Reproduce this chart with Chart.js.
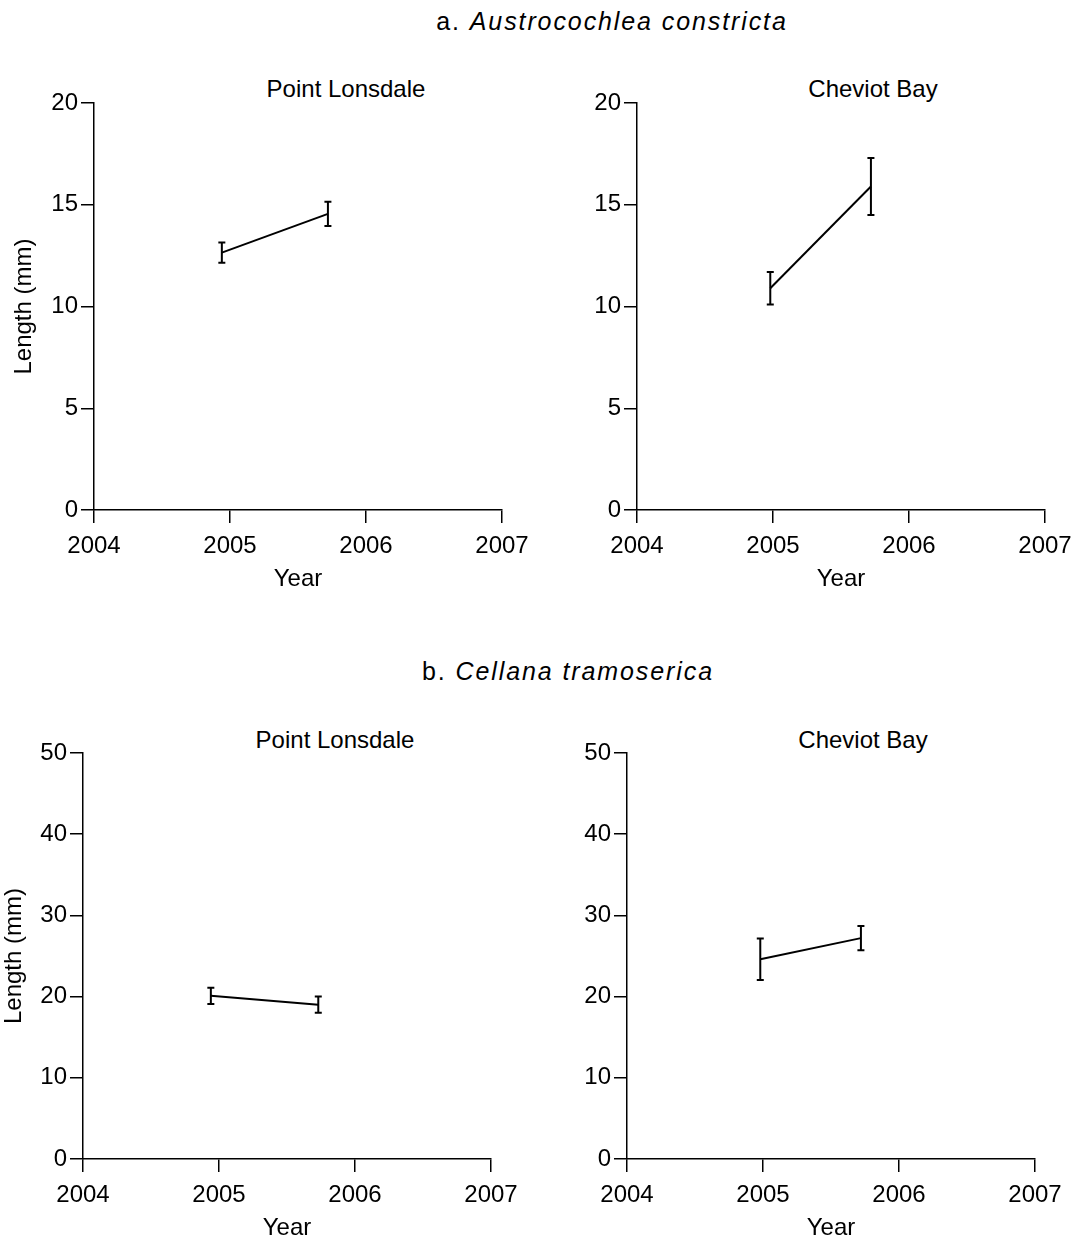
<!DOCTYPE html>
<html>
<head>
<meta charset="utf-8">
<script src="https://cdn.jsdelivr.net/npm/chart.js@4"></script>
<style>
  body { margin: 0; background: #fff; width: 1075px; height: 1241px; overflow: hidden; position: relative; font-family: "Liberation Sans", Arial, sans-serif; color: #000; }
  canvas { position: absolute; }
  .head { position: absolute; font-size: 25px; letter-spacing: 1.9px; white-space: nowrap; transform: translate(-50%, -50%); }
  .sub { position: absolute; font-size: 24px; white-space: nowrap; transform: translate(-50%, -50%); }
</style>
</head>
<body>
<div class="head" style="left:612px; top:21px;">a. <i>Austrocochlea constricta</i></div>
<div class="head" style="left:568px; top:671px;">b. <i>Cellana tramoserica</i></div>
<div class="sub" style="left:346px; top:89px;">Point Lonsdale</div>
<div class="sub" style="left:873px; top:89px;">Cheviot Bay</div>
<div class="sub" style="left:335px; top:740px;">Point Lonsdale</div>
<div class="sub" style="left:863px; top:740px;">Cheviot Bay</div>

<canvas id="aLonsdale"></canvas>
<canvas id="aCheviot"></canvas>
<canvas id="bLonsdale"></canvas>
<canvas id="bCheviot"></canvas>

<script>
// sampling times (decimal year) and mean length (mm) with error bars
const yearTicks = [2004, 2005, 2006, 2007];

const aLonsdaleYears = [2004.94, 2005.72];
const aLonsdaleMeans = [12.65, 14.55];
const aLonsdaleErrs  = [0.5, 0.6];

const aCheviotYears = [2004.98, 2005.72];
const aCheviotMeans = [10.9, 15.9];
const aCheviotErrs  = [0.8, 1.4];

const bLonsdaleYears = [2004.94, 2005.73];
const bLonsdaleMeans = [20.1, 19.0];
const bLonsdaleErrs  = [1.0, 1.0];

const bCheviotYears = [2004.98, 2005.72];
const bCheviotMeans = [24.6, 27.2];
const bCheviotErrs  = [2.55, 1.5];

Chart.defaults.color = "#000";
Chart.defaults.font.family = "'Liberation Sans', Arial, sans-serif";
Chart.defaults.font.size = 24;

// draws the vertical error bars with little caps
const errorBars = {
  id: "errorBars",
  afterDatasetsDraw(chart) {
    const ctx = chart.ctx;
    const xs = chart.scales.x, ys = chart.scales.y;
    const ds = chart.data.datasets[0];
    ctx.save();
    ctx.strokeStyle = "#000";
    ctx.lineWidth = 2;
    ds.data.forEach((p, i) => {
      const x = xs.getPixelForValue(p.x);
      const top = ys.getPixelForValue(p.y + ds.errors[i]);
      const bot = ys.getPixelForValue(p.y - ds.errors[i]);
      ctx.beginPath();
      ctx.moveTo(x, top); ctx.lineTo(x, bot);
      ctx.moveTo(x - 3.5, top); ctx.lineTo(x + 3.5, top);
      ctx.moveTo(x - 3.5, bot); ctx.lineTo(x + 3.5, bot);
      ctx.stroke();
    });
    ctx.restore();
  }
};

// box = plot area in page pixels, region = left edge / width of the panel
function panel(id, years, means, errs, yMax, yStep, showYTitle, yTitlePad, box, region) {
  const canvas = document.getElementById(id);
  const topPad = 40, xAxisH = 84;
  const yw = box.x - region.left;
  canvas.width = region.width;
  canvas.height = topPad + box.h + xAxisH + 2;
  canvas.style.left = region.left + "px";
  canvas.style.top = (box.y - topPad) + "px";

  new Chart(canvas, {
    type: "line",
    data: {
      datasets: [{
        data: years.map((y, i) => ({ x: y, y: means[i] })),
        errors: errs,
        borderColor: "#000",
        borderWidth: 2,
        pointRadius: 0,
        fill: false,
        tension: 0
      }]
    },
    options: {
      responsive: false,
      animation: false,
      events: [],
      layout: {
        padding: { top: topPad, left: 0, bottom: 2, right: region.width - yw - box.w }
      },
      plugins: { legend: { display: false }, tooltip: { enabled: false } },
      scales: {
        x: {
          type: "linear",
          min: yearTicks[0],
          max: yearTicks[yearTicks.length - 1],
          afterBuildTicks: s => { s.ticks = yearTicks.map(v => ({ value: v })); },
          afterFit: s => { s.height = xAxisH; },
          ticks: { padding: 9, callback: v => String(v), maxRotation: 0 },
          grid: { drawOnChartArea: false, drawTicks: true, tickLength: 13, color: "#000", lineWidth: 1.5 },
          border: { display: true, color: "#000", width: 1.5 },
          title: { display: true, text: "Year", padding: 0 }
        },
        y: {
          min: 0,
          max: yMax,
          ticks: { stepSize: yStep, padding: 3 },
          afterFit: s => { s.width = yw; },
          grid: { drawOnChartArea: false, drawTicks: true, tickLength: 13, color: "#000", lineWidth: 1.5 },
          border: { display: true, color: "#000", width: 1.5 },
          title: { display: showYTitle, text: "Length (mm)", padding: { top: yTitlePad, bottom: 0 } }
        }
      }
    },
    plugins: [errorBars]
  });
}

panel("aLonsdale", aLonsdaleYears, aLonsdaleMeans, aLonsdaleErrs, 20, 5, true, 10,
  { x: 94, y: 103, w: 408, h: 407 }, { left: 0, width: 545 });
panel("aCheviot", aCheviotYears, aCheviotMeans, aCheviotErrs, 20, 5, false, 0,
  { x: 637, y: 103, w: 408, h: 407 }, { left: 537, width: 550 });
panel("bLonsdale", bLonsdaleYears, bLonsdaleMeans, bLonsdaleErrs, 50, 10, true, 0,
  { x: 83, y: 753, w: 408, h: 406 }, { left: 0, width: 540 });
panel("bCheviot", bCheviotYears, bCheviotMeans, bCheviotErrs, 50, 10, false, 0,
  { x: 627, y: 753, w: 408, h: 406 }, { left: 537, width: 545 });
</script>
</body>
</html>
